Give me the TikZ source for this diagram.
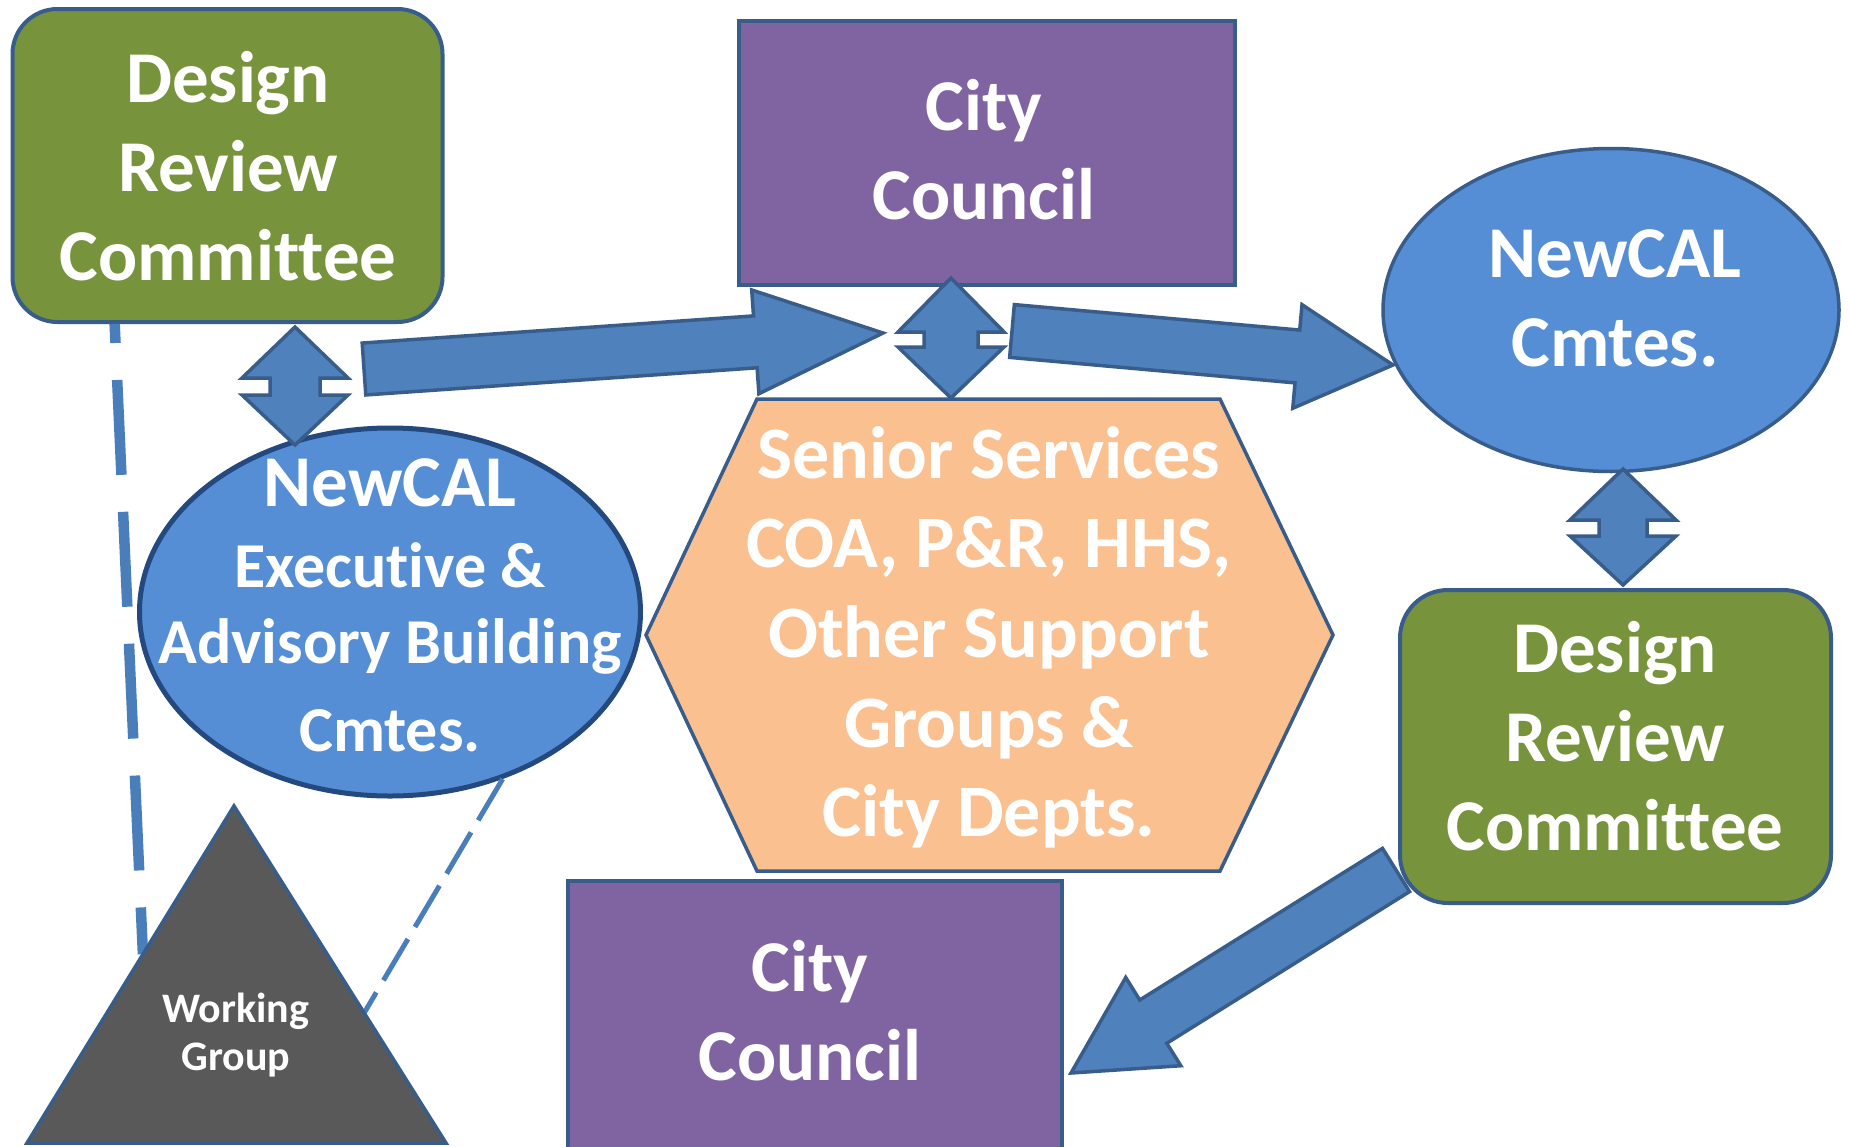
\documentclass[tikz,border=0pt]{standalone}
\usepackage{fontspec}
\setmainfont{Carlito}[Ligatures=NoCommon]
\usetikzlibrary{calc,shapes.geometric}
\definecolor{cBorder}{HTML}{385D8A}
\definecolor{cArrow}{HTML}{4F81BD}
\definecolor{cEll}{HTML}{558ED5}
\definecolor{cEllL}{HTML}{24497F}
\definecolor{cOlive}{HTML}{77933C}
\definecolor{cPurple}{HTML}{8064A2}
\definecolor{cOrange}{HTML}{FAC090}
\definecolor{cGray}{HTML}{595959}
\definecolor{cDash}{HTML}{4A7EBB}
\newcommand\ml[1]{\begin{tabular}[t]{@{}c@{}}#1\end{tabular}}
% block arrow: tail, tip, shaft half width, head half width, head length
\newcommand\blockarrow[5]{%
  \path ($(#2)!#5!(#1)$) coordinate (hb);
  \draw[barrow] ($(#1)!#3!90:(#2)$) -- ($(hb)!#3!90:(#2)$) -- ($(hb)!#4!90:(#2)$) -- (#2)
     -- ($(hb)!#4!-90:(#2)$) -- ($(hb)!#3!-90:(#2)$) -- ($(#1)!#3!-90:(#2)$) -- cycle;}
% double arrow: tip A, tip B, shaft half, head half, head length A, head length B
\newcommand\dblarrow[6]{%
  \path ($(#1)!#5!(#2)$) coordinate (hA) ($(#2)!#6!(#1)$) coordinate (hB);
  \draw[barrow] (#1) -- ($(hA)!#4!90:(#1)$) -- ($(hA)!#3!90:(#1)$) -- ($(hB)!#3!-90:(#2)$)
     -- ($(hB)!#4!-90:(#2)$) -- (#2) -- ($(hB)!#4!90:(#2)$) -- ($(hB)!#3!90:(#2)$)
     -- ($(hA)!#3!-90:(#1)$) -- ($(hA)!#4!-90:(#1)$) -- cycle;}
\tikzset{
  shp/.style={draw=cBorder, line width=4pt},
  barrow/.style={draw=cBorder, fill=cArrow, line width=3.5pt, line join=miter},
  txt/.style={text=white, inner sep=0pt, anchor=base, font=\bfseries\fontsize{73}{89}\selectfont},
  dashthick/.style={draw=cDash, line width=10.5pt, dash pattern=on 95pt off 37pt, dash phase=76pt},
  dashthin/.style={draw=cDash, line width=5pt, dash pattern=on 48pt off 14pt},
}
\begin{document}
\begin{tikzpicture}[x=1pt,y=-1pt]
\useasboundingbox (0,0) rectangle (1850,1146);
\fill[white] (0,0) rectangle (1850,1146);
% triangle corners
\coordinate (wgA) at (234,806);
\coordinate (wgL) at (27,1143);
\coordinate (wgR) at (446,1143);
% shapes
\node[shp, fill=cOlive, rounded corners=45pt, minimum width=430pt, minimum height=313pt] (drc1) at (227.5,165.5) {};
\node[shp, fill=cPurple, minimum width=496pt, minimum height=264pt] (cc1) at (987,153) {};
\draw[shp, fill=cOrange, line width=3.5pt, line join=miter] (757,399) -- (1220,399) -- (1333,635) -- (1220,871) -- (757,871) -- (646,635) -- cycle;
\coordinate (hex) at (989.5,635);
\node[shp, ellipse, fill=cEll, line width=3.5pt, inner sep=0pt, minimum width=456pt, minimum height=323pt] (elR) at (1611,310) {};
\node[shp, ellipse, fill=cEll, draw=cEllL, line width=5pt, inner sep=0pt, minimum width=501pt, minimum height=368pt] (elL) at (390,612) {};
\node[shp, fill=cPurple, minimum width=494pt, minimum height=290pt] (cc2) at (815,1026) {};
% dashed links
\draw[dashthick] ($(drc1.south west)!0.24!(drc1.south east)$) -- ($(wgL)!0.56!(wgA)$);
\draw[dashthin] (elL.-56) -- ($(wgA)!0.614!(wgR)$);
\draw[shp, fill=cGray, line width=3.5pt, line join=miter] (wgA) -- (wgR) -- (wgL) -- cycle;
% arrows
\coordinate (a1s) at (364,369); \coordinate (a1e) at (883,333);
\coordinate (a2s) at (1012,331); \coordinate (a2e) at (1393,365);
\coordinate (a3s) at (1396,870); \coordinate (a3e) at (1071,1073);
\coordinate (d1t) at (295,327); \coordinate (d1b) at (295,445);
\coordinate (d2t) at (951,278); \coordinate (d2b) at (951,398);
\coordinate (d3t) at (1623,469); \coordinate (d3b) at (1623,585);
\blockarrow{a1s}{a1e}{26pt}{52pt}{128pt}
\blockarrow{a2s}{a2e}{26.5pt}{52pt}{96pt}
\blockarrow{a3s}{a3e}{25.5pt}{52pt}{97pt}
\dblarrow{d1t}{d1b}{25pt}{53pt}{51pt}{50pt}
\dblarrow{d2t}{d2b}{27pt}{53pt}{54pt}{51pt}
\dblarrow{d3t}{d3b}{24pt}{53pt}{51pt}{49pt}
\node[shp, fill=cOlive, rounded corners=48pt, minimum width=431pt, minimum height=313pt] (drc2) at (1615.5,746.5) {};
% texts
\node[txt] (drc1t) at (228,102) {\ml{Design\\Review\\Committee}};
\node[txt] (cc1t) at (984,130) {\ml{City\\Council}};
\node[txt] (elRt) at (1615,277) {\ml{NewCAL\\Cmtes.}};
\node[txt, font=\bfseries\fontsize{74}{89.7}\selectfont] (hext) at (989,478) {\ml{Senior Services\\COA, P\&R, HHS,\\Other Support\\Groups \&\\City Depts.}};
\node[txt] (drc2t) at (1615,672) {\ml{Design\\Review\\Committee}};
\node[txt] (cc2t) at (810,991) {\ml{City\\Council}};
\node[txt, font=\bfseries\fontsize{64}{76}\selectfont] (elLt) at (390,506) {\ml{{\fontsize{73}{76}\selectfont NewCAL}\\[5pt]Executive \&\\Advisory Building\\[12pt]Cmtes.}};
\node[txt, font=\bfseries\fontsize{42}{48}\selectfont] (wgt) at (236,1022) {\ml{Working\\Group}};
\end{tikzpicture}
\end{document}
